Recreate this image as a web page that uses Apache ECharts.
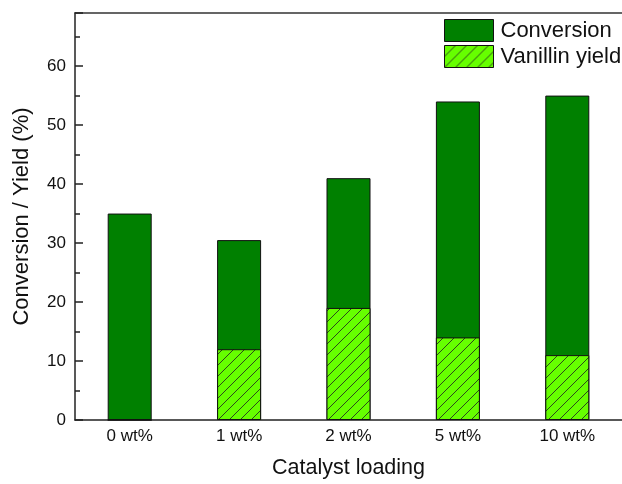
<!DOCTYPE html>
<html>
<head>
<meta charset="utf-8">
<script src="https://cdn.jsdelivr.net/npm/echarts@6/dist/echarts.min.js"></script>
<style>
  html, body { margin: 0; padding: 0; background: #fff; }
  #chart { width: 622px; height: 484px; }
</style>
</head>
<body>
<div id="chart"></div>
<script>
  // data
  var categories = ['0 wt%', '1 wt%', '2 wt%', '5 wt%', '10 wt%'];
  var conversion = [35, 30.5, 41, 54, 55];
  var vanillinYield = [0, 12, 19, 14, 11];

  // diagonal hatch for the yield bars
  function hatch() {
    var s = 11;
    var c = document.createElement('canvas');
    c.width = s;
    c.height = s;
    var ctx = c.getContext('2d');
    ctx.fillStyle = '#66ff00';
    ctx.fillRect(0, 0, s, s);
    ctx.strokeStyle = '#2b4a1a';
    ctx.lineWidth = 1;
    ctx.beginPath();
    ctx.moveTo(-1, s + 1);
    ctx.lineTo(s + 1, -1);
    ctx.moveTo(-1, 1);
    ctx.lineTo(1, -1);
    ctx.moveTo(s - 1, s + 1);
    ctx.lineTo(s + 1, s - 1);
    ctx.stroke();
    return c;
  }

  var myChart = echarts.init(document.getElementById('chart'));
  var font = '"Liberation Sans", Arial, sans-serif';

  var option = {
    animation: false,
    textStyle: { fontFamily: font },
    grid: {
      left: 75,
      top: 13,
      width: 550,
      height: 409
    },
    legend: {
      orient: 'vertical',
      left: 444,
      top: 19,
      padding: 0,
      itemWidth: 49,
      itemHeight: 22,
      itemGap: 3,
      icon: 'rect',
      data: ['Conversion', 'Vanillin yield'],
      textStyle: { fontSize: 22, lineHeight: 22, color: '#111', fontFamily: font, padding: [0, 0, 0, 2] },
      itemStyle: { borderColor: '#111', borderWidth: 1 }
    },
    xAxis: [{
      type: 'category',
      data: categories,
      axisLine: { lineStyle: { color: '#222', width: 1.5 } },
      axisTick: { show: false },
      axisLabel: { fontSize: 17, color: '#111', margin: 8, fontFamily: font },
      name: 'Catalyst loading',
      nameLocation: 'middle',
      nameGap: 37,
      nameTextStyle: { fontSize: 21.5, color: '#111', fontFamily: font }
    }, {
      // top frame line
      type: 'category',
      position: 'top',
      data: categories,
      axisLine: { show: true, onZero: false, lineStyle: { color: '#333', width: 1.5 } },
      axisTick: { show: false },
      axisLabel: { show: false }
    }],
    yAxis: [{
      type: 'value',
      min: 0,
      max: 69,
      interval: 10,
      axisLine: { show: true, lineStyle: { color: '#222', width: 1.5 } },
      axisTick: { show: true, inside: true, length: 8, lineStyle: { color: '#222', width: 1.5 } },
      axisLabel: {
        fontSize: 17, color: '#111', margin: 9, fontFamily: font,
        formatter: function (v) { return v % 10 === 0 ? String(v) : ''; }
      },
      splitLine: { show: false },
      name: 'Conversion / Yield (%)',
      nameLocation: 'middle',
      nameGap: 42,
      nameTextStyle: { fontSize: 22, color: '#111', fontFamily: font }
    }, {
      // minor ticks every 5
      type: 'value',
      position: 'left',
      min: 0,
      max: 69,
      interval: 5,
      axisLine: { show: false },
      axisTick: { show: true, inside: true, length: 5, lineStyle: { color: '#222', width: 1.5 } },
      axisLabel: { show: false },
      splitLine: { show: false }
    }],
    series: [{
      name: 'Conversion',
      type: 'bar',
      data: conversion,
      barWidth: 44,
      barGap: '-100%',
      itemStyle: { color: '#008000', borderColor: '#111', borderWidth: 1 }
    }, {
      name: 'Vanillin yield',
      type: 'bar',
      data: vanillinYield,
      barWidth: 44,
      barGap: '-100%',
      itemStyle: {
        color: { image: hatch(), repeat: 'repeat' },
        borderColor: '#111',
        borderWidth: 1
      }
    }]
  };

  myChart.setOption(option);
</script>
</body>
</html>
